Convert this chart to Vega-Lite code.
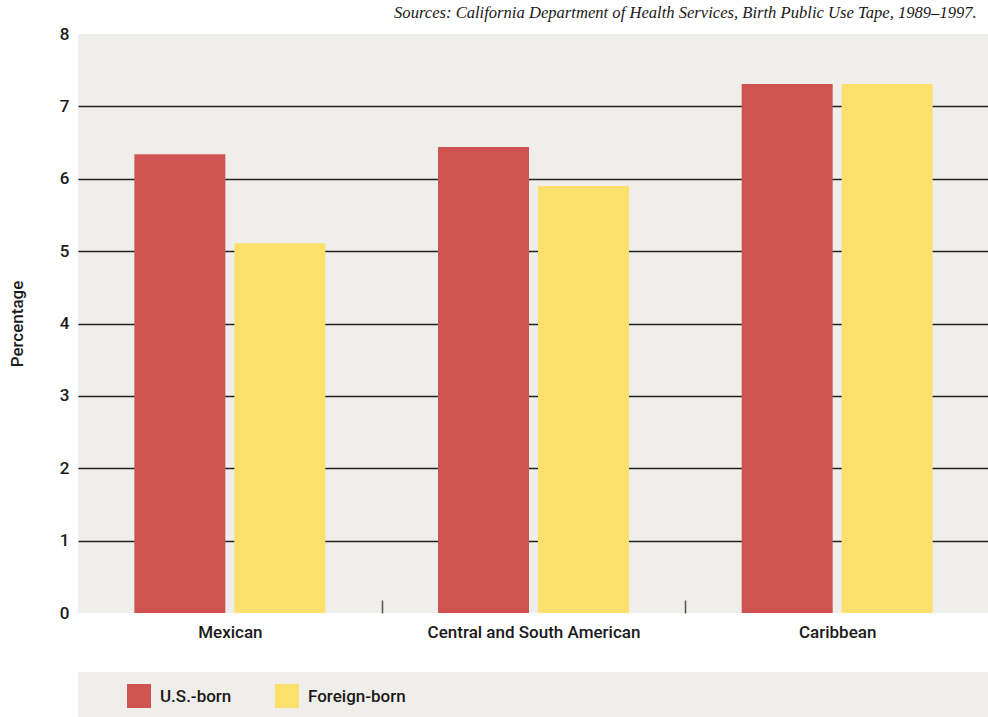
{
  "$schema": "https://vega.github.io/schema/vega-lite/v6.json",
  "padding": {"left": 8, "top": 5, "right": 0, "bottom": 0},
  "background": "white",
  "title": {
    "text": "Sources: California Department of Health Services, Birth Public Use Tape, 1989–1997.",
    "anchor": "end",
    "font": "Liberation Serif",
    "fontStyle": "italic",
    "fontWeight": "normal",
    "fontSize": 16.6,
    "color": "#1a1a1a",
    "dx": -13,
    "offset": 3
  },
  "config": {
    "view": {"fill": "#f0eeea", "stroke": null},
    "concat": {"spacing": 32},
    "font": "Roboto"
  },
  "vconcat": [
    {
      "width": 911,
      "height": 579,
      "data": {
        "values": [
          {"origin": "Mexican", "nativity": "U.S.-born", "pct": 6.34},
          {"origin": "Mexican", "nativity": "Foreign-born", "pct": 5.11},
          {"origin": "Central and South American", "nativity": "U.S.-born", "pct": 6.44},
          {"origin": "Central and South American", "nativity": "Foreign-born", "pct": 5.9},
          {"origin": "Caribbean", "nativity": "U.S.-born", "pct": 7.31},
          {"origin": "Caribbean", "nativity": "Foreign-born", "pct": 7.31}
        ]
      },
      "mark": {"type": "bar"},
      "encoding": {
        "x": {
          "field": "origin",
          "type": "nominal",
          "sort": ["Mexican", "Central and South American", "Caribbean"],
          "scale": {"paddingInner": 0, "paddingOuter": 0},
          "axis": {
            "title": null,
            "labelAngle": 0,
            "labelLimit": 0,
            "domain": false,
            "tickBand": "extent",
            "tickSize": -13,
            "tickWidth": 1.5,
            "tickColor": {"condition": {"test": "datum.value === 'Caribbean' || datum.index > 0.99 || !!datum.extra", "value": "transparent"}, "value": "#555555"},
            "labelPadding": 24,
            "labelFont": "Roboto",
            "labelFontSize": 17,
            "labelFontWeight": 500,
            "labelColor": "#1a1a1a"
          }
        },
        "xOffset": {
          "field": "nativity",
          "type": "nominal",
          "sort": ["U.S.-born", "Foreign-born"],
          "scale": {"paddingInner": 0.09, "paddingOuter": 0.5635}
        },
        "y": {
          "field": "pct",
          "type": "quantitative",
          "scale": {"domain": [0, 8], "nice": false},
          "axis": {
            "title": "Percentage",
            "values": [0, 1, 2, 3, 4, 5, 6, 7, 8],
            "grid": true,
            "gridColor": "#222222",
            "gridWidth": 1.3,
            "gridOpacity": {"condition": {"test": "datum.value === 0 || datum.value === 8", "value": 0}, "value": 1},
            "domain": false,
            "ticks": false,
            "labelPadding": 9,
            "labelFont": "Roboto",
            "labelFontSize": 17,
            "labelFontWeight": 500,
            "labelColor": "#1a1a1a",
            "titleFont": "Roboto",
            "titleFontSize": 17,
            "titleFontWeight": 500,
            "titleColor": "#1a1a1a",
            "titlePadding": 33
          }
        },
        "color": {
          "field": "nativity",
          "type": "nominal",
          "scale": {"domain": ["U.S.-born", "Foreign-born"], "range": ["#cf5451", "#fbe16b"]},
          "legend": null
        }
      }
    },
    {
      "width": 911,
      "height": 45,
      "data": {"values": [{"nativity": "U.S.-born"}, {"nativity": "Foreign-born"}]},
      "encoding": {
        "x": {
          "field": "nativity",
          "type": "nominal",
          "sort": ["U.S.-born", "Foreign-born"],
          "scale": {"type": "point", "range": [61, 209], "padding": 0},
          "axis": null
        }
      },
      "layer": [
        {
          "mark": {"type": "square", "size": 576, "filled": true, "opacity": 1, "yOffset": 1.5},
          "encoding": {
            "color": {
              "field": "nativity",
              "type": "nominal",
              "scale": {"domain": ["U.S.-born", "Foreign-born"], "range": ["#cf5451", "#fbe16b"]},
              "legend": null
            }
          }
        },
        {
          "mark": {"type": "text", "align": "left", "baseline": "middle", "dx": 21, "dy": 2, "font": "Roboto", "fontSize": 17, "fontWeight": 500, "color": "#1a1a1a"},
          "encoding": {"text": {"field": "nativity"}}
        }
      ]
    }
  ]
}
